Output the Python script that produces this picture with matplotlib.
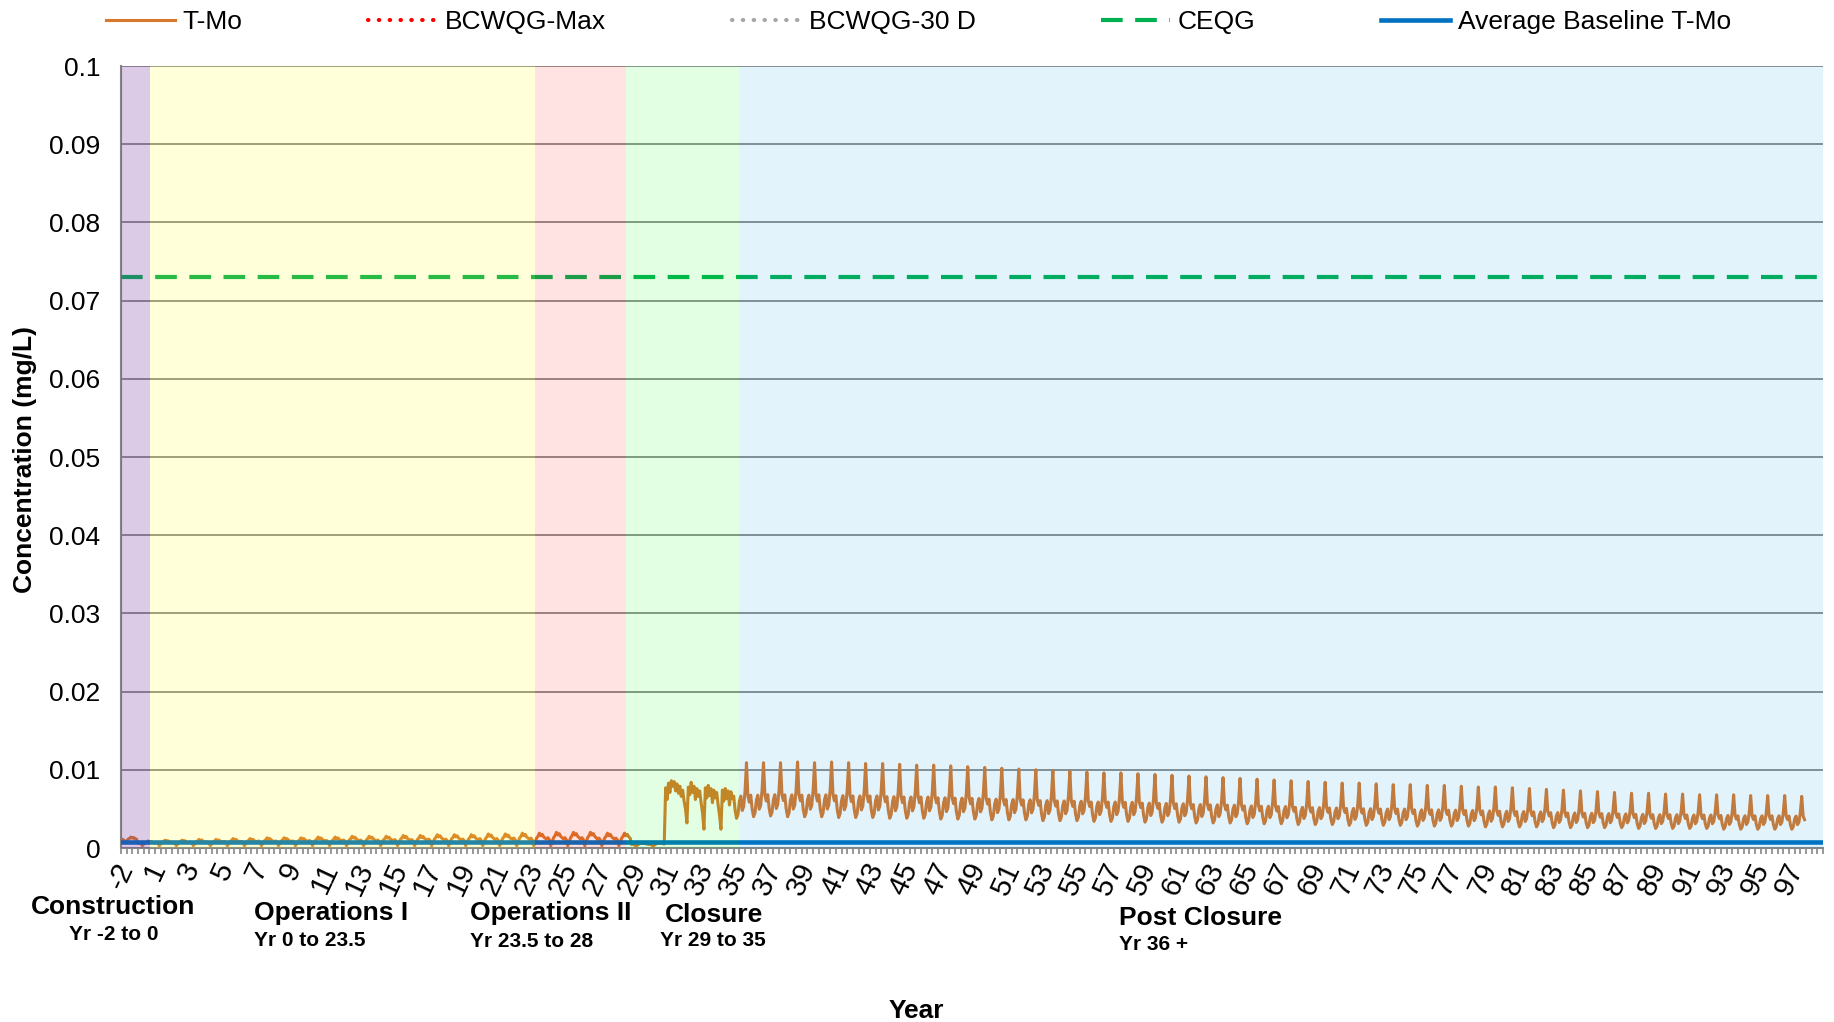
import matplotlib
matplotlib.use('Agg')
import matplotlib.pyplot as plt
import numpy as np

plt.rcParams['font.family'] = ['Liberation Sans', 'DejaVu Sans']

# x axis categories (no year 0 in the source sheet)
years = [-2, -1] + list(range(1, 99))

# monthly pattern within a year, 0 = annual low, 1 = annual peak
ops_shape = [0.5, 0.6, 0.45, 0.0, 0.3, 0.6, 0.75, 1.0, 0.8, 0.9, 0.7, 0.6]
post_shape = [0.40, 0.14, 0.0, 0.07, 0.31, 0.40, 0.14, 0.21, 0.50, 1.0, 0.40, 0.29]

# T-Mo annual peak / low, construction + operations + start of closure (yr -2 .. 30)
early_peak = [0.0014, 0.0009,
              0.0010, 0.0010, 0.0011, 0.0011, 0.0012, 0.0012, 0.0013, 0.0013, 0.0013, 0.0014,
              0.0014, 0.0015, 0.0015, 0.0015, 0.0016, 0.0016, 0.0017, 0.0017, 0.0017, 0.0018,
              0.0018, 0.0019, 0.0019,
              0.0020, 0.0020, 0.0020, 0.0019, 0.0019,
              0.0007, 0.0007]
early_low = [0.0007, 0.0003] + [0.0003] * 28 + [0.0002, 0.0002]

# T-Mo monthly during closure (yr 31 .. 34)
closure_monthly = [0.0077, 0.0062, 0.0083, 0.0071, 0.0086, 0.0079, 0.0085, 0.0073, 0.0082, 0.0070, 0.0079, 0.0066,
                   0.0074, 0.0060, 0.0050, 0.0032, 0.0078, 0.0068, 0.0084, 0.0071, 0.0079, 0.0062, 0.0076, 0.0066,
                   0.0073, 0.0058, 0.0045, 0.0024, 0.0077, 0.0064, 0.0080, 0.0067, 0.0076, 0.0058, 0.0074, 0.0064,
                   0.0071, 0.0055, 0.0042, 0.0024, 0.0074, 0.0060, 0.0076, 0.0063, 0.0073, 0.0055, 0.0072, 0.0063]

# T-Mo annual peak / low, post closure (yr 35 .. 97)
post_peak = [0.0109,
             0.0109, 0.0109, 0.0110, 0.0109, 0.0110, 0.0109, 0.0108, 0.0108, 0.0107, 0.0106, 0.0106,
             0.0105, 0.0104, 0.0103, 0.0102, 0.0101, 0.0100, 0.0099, 0.0098, 0.0097, 0.0096,
             0.0096, 0.0095, 0.0094, 0.0093, 0.0092, 0.0091, 0.0090, 0.0089, 0.0088, 0.0087,
             0.0086, 0.0085, 0.0084, 0.0083, 0.0083, 0.0082, 0.0081, 0.0081, 0.0080, 0.0080,
             0.0079, 0.0078, 0.0078, 0.0077, 0.0076, 0.0075, 0.0074, 0.0073, 0.0072, 0.0071,
             0.0070, 0.0070, 0.0069, 0.0069, 0.0068, 0.0068, 0.0068, 0.0067, 0.0067, 0.0067, 0.0066]
post_low = [0.0038, 0.0040, 0.0041, 0.0040, 0.0040, 0.0040, 0.0039, 0.0039, 0.0039, 0.0038, 0.0038, 0.0038,
            0.0037, 0.0037, 0.0037, 0.0036, 0.0036, 0.0036, 0.0035, 0.0035, 0.0035, 0.0034,
            0.0034, 0.0034, 0.0033, 0.0033, 0.0033, 0.0032, 0.0032, 0.0032, 0.0031, 0.0031,
            0.0031, 0.0030, 0.0030, 0.0030, 0.0029, 0.0029, 0.0029, 0.0029, 0.0028, 0.0028,
            0.0028, 0.0028, 0.0027, 0.0027, 0.0027, 0.0027, 0.0026, 0.0026, 0.0026, 0.0026,
            0.0026, 0.0025, 0.0025, 0.0025, 0.0025, 0.0025, 0.0024, 0.0024, 0.0024, 0.0024, 0.0024]

baseline_tmo = 0.0008
ceqg = 0.073

# phase shading (in year-category units) and colours
phase_edges = [0, 1.7, 24.32, 29.67, 36.31, 100]
phase_colors = ['#7030A040', '#FFFF0026', '#FF00001C', '#00FF001C', '#0099E61C']

phase_names = ['Construction', 'Operations I', 'Operations II', 'Closure', 'Post Closure']
phase_years = ['Yr -2 to 0', 'Yr 0 to 23.5', 'Yr 23.5 to 28', 'Yr 29 to 35', 'Yr 36 +']

# build monthly series
tmo = []
for pk, lo in zip(early_peak, early_low):
    tmo += [lo + s * (pk - lo) for s in ops_shape]
tmo += closure_monthly
for pk, lo in zip(post_peak, post_low):
    tmo += [lo + s * (pk - lo) for s in post_shape]
x = np.arange(len(tmo)) / 12.0

W, H = 1834, 1022
fig = plt.figure(figsize=(W / 100, H / 100), dpi=100)
ax = fig.add_axes([121 / W, 1 - 848 / H, (1823 - 121) / W, (848 - 66) / H])

ax.plot(x, tmo, color='#D9782B', lw=2.2, zorder=3, label='T-Mo')
ax.plot([], [], color='#FF0000', lw=3, ls=(0, (0.1, 2.5)), dash_capstyle='round', label='BCWQG-Max')
ax.plot([], [], color='#A6A6A6', lw=3, ls=(0, (0.1, 2.5)), dash_capstyle='round', label='BCWQG-30 D')
ax.axhline(ceqg, color='#00B050', lw=3.0, ls=(0, (5.2, 3.0)), zorder=3, label='CEQG')
ax.axhline(baseline_tmo, color='#0070C0', lw=3.3, zorder=3, label='Average Baseline T-Mo')

for a, b, c in zip(phase_edges[:-1], phase_edges[1:], phase_colors):
    ax.axvspan(a, b, color=c, lw=0, zorder=4)

ax.set_xlim(0, 100)
ax.set_ylim(0, 0.1)

yt = np.round(np.arange(0, 0.1001, 0.01), 2)
ax.set_yticks(yt)
ax.set_yticklabels(['%g' % v for v in yt], fontsize=19)
ax.yaxis.grid(True, color='#868686', lw=1.3, zorder=1)
ax.set_axisbelow(True)
ax.tick_params(axis='y', length=0, pad=15)

ax.set_xticks(np.arange(0, 100, 2))
ax.set_xticklabels([str(y) for y in years[::2]], rotation=65, fontsize=21)
ax.set_xticks(np.arange(0, 100.01, 1 / 3), minor=True)
ax.tick_params(axis='x', which='both', length=4.3, width=1.2, color='#868686', pad=3)

for s in ['top', 'right']:
    ax.spines[s].set_visible(False)
for s in ['left', 'bottom']:
    ax.spines[s].set_color('#868686')
    ax.spines[s].set_linewidth(1.5)

ax.set_ylabel('Concentration (mg/L)', fontsize=19, fontweight='bold')
ax.yaxis.set_label_coords((37 - 121) / 1702, (848 - 459) / 782)
ax.set_xlabel('Year', fontsize=19, fontweight='bold')
ax.xaxis.set_label_coords((916 - 121) / 1702, (848 - 999) / 782)

ax.legend(ncol=5, frameon=False, fontsize=19, handlelength=2.6, handletextpad=0.3,
          columnspacing=4.77, borderpad=0, loc='center left',
          bbox_to_anchor=(93 / W, 1 - 22 / H), bbox_transform=fig.transFigure)

# phase labels under the axis
name_pos = [(113, 907, 'center'), (254, 913, 'left'), (470, 913, 'left'), (714, 915, 'center'), (1119, 918, 'left')]
yr_pos = [(114, 934, 'center'), (254, 940, 'left'), (470, 941, 'left'), (713, 940, 'center'), (1119, 944, 'left')]
for name, yr, (nx, ny, nha), (yx, yy, yha) in zip(phase_names, phase_years, name_pos, yr_pos):
    fig.text(nx / W, 1 - ny / H, name, fontsize=19, fontweight='bold', ha=nha, va='center')
    fig.text(yx / W, 1 - yy / H, yr, fontsize=15, fontweight='bold', ha=yha, va='center')

fig.savefig('out.png', dpi=100)
